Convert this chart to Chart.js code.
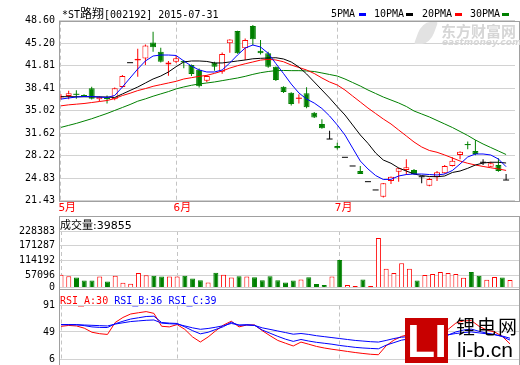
<!DOCTYPE html>
<html>
<head>
<meta charset="utf-8">
<script src="https://cdn.jsdelivr.net/npm/chart.js@4.4.1/dist/chart.umd.min.js"></script>
<style>
body { margin: 0; background: #fff; }
#wrap { position: relative; width: 520px; height: 365px; overflow: hidden; font-family: "DejaVu Sans Mono", "Noto Sans CJK SC", monospace; }
canvas { position: absolute; left: 0; }
.frame { position: absolute; box-sizing: border-box; border: 1px solid #a0a0a0; pointer-events: none; }
.txt { position: absolute; white-space: nowrap; font-size: 10px; line-height: 12px; color: #000; }
.mk { position: absolute; top: 13px; width: 7px; height: 3px; }
</style>
</head>
<body>
<div id="wrap">
  <canvas id="price" width="520" height="217" style="top:0"></canvas>
  <canvas id="vol" width="520" height="80" style="top:217px"></canvas>
  <canvas id="rsi" width="520" height="80" style="top:289px"></canvas>

  <div class="frame" style="left:59px;top:21px;width:461px;height:181px"></div>
  <div class="frame" style="left:59px;top:216px;width:461px;height:74px"></div>
  <div class="frame" style="left:59px;top:289px;width:461px;height:90px;border-top:none"></div>

  <div class="txt" style="left:62px;top:8px">*ST<span style="font-size:12px">路翔</span>[002192] 2015-07-31</div>
  <div class="txt" style="left:331px;top:8px">5PMA</div><div class="mk" style="left:359px;background:#0000ff"></div>
  <div class="txt" style="left:374px;top:8px">10PMA</div><div class="mk" style="left:406px;background:#000"></div>
  <div class="txt" style="left:422px;top:8px">20PMA</div><div class="mk" style="left:455px;background:#ff0000"></div>
  <div class="txt" style="left:470px;top:8px">30PMA</div><div class="mk" style="left:502px;background:#008000"></div>

  <div class="txt" style="left:418px;top:22px;width:16px;height:22px;border-radius:50% 10% 50% 10%;background:#e2e2e2;transform:skewX(-20deg)"></div>
  <div class="txt" style="left:441px;top:22px;font-family:'Noto Sans CJK SC';font-weight:bold;font-size:15px;line-height:17px;color:#d6d6d6;letter-spacing:0px">东方财富网</div>
  <div class="txt" style="left:442px;top:37px;font-family:'DejaVu Sans';font-weight:bold;font-style:italic;font-size:9px;line-height:10px;color:#d6d6d6">eastmoney.com</div>

  <div class="txt" style="left:60px;top:219px;font-family:'DejaVu Sans','Noto Sans CJK SC';font-size:11px;line-height:13px">成交量:39855</div>
  <div class="txt" style="left:60px;top:295px"><span style="color:#ff0000">RSI_A:30</span> <span style="color:#0000ff">RSI_B:36</span> <span style="color:#0000ff">RSI_C:39</span></div>

  <div class="txt" style="left:405px;top:318px;width:43px;height:45px;background:#c80000;color:#fff;font-family:'Liberation Sans';font-weight:bold;font-size:46px;line-height:46px;text-align:center;letter-spacing:-1px">LI</div>
  <div class="txt" style="left:456px;top:315px;font-family:'Noto Sans CJK SC';font-size:19px;line-height:22px;letter-spacing:2px">锂电网</div>
  <div class="txt" style="left:457px;top:338px;font-family:'Liberation Sans';font-size:21px;line-height:24px">li-b.cn</div>
</div>

<script>
// trading days: 15 in May, 21 in June, 23 in July
const monthTicks = [0, 15, 36];
const monthNames = ['5月', '6月', '7月'];

const open = [37.0, 37.23, 37.55, 37.4, 38.4, 36.73, 37.0, 36.73, 38.6, 42.26,
  42.6, 42.9, 45.3, 43.9, 42.0, 42.4, 42.5, 41.9, 41.2, 39.54,
  42.26, 40.9, 45.19, 47.05, 44.43, 47.8, 44.07, 43.67, 41.66, 38.64,
  37.73, 36.8, 37.64, 34.7, 33.0, 30.74, 29.69, 27.98, 26.67, 25.91,
  24.3, 23.05, 22.03, 24.4, 25.81, 26.06, 26.06, 25.05, 23.69, 24.96,
  25.56, 26.67, 28.33, 30.0, 28.93, 27.23, 26.56, 26.82, 24.55];
const high = [37.5, 38.03, 38.1, 37.5, 38.64, 37.2, 37.3, 38.5, 40.4, 42.26,
  44.37, 45.0, 46.94, 44.5, 42.5, 43.3, 42.66, 42.0, 41.4, 40.4,
  42.41, 43.8, 45.8, 47.1, 45.9, 47.96, 45.68, 43.9, 41.7, 38.7,
  37.8, 37.5, 38.55, 34.8, 33.72, 31.99, 30.18, 27.98, 26.67, 26.67,
  24.3, 23.05, 24.1, 25.1, 26.4, 27.68, 26.2, 25.05, 24.9, 25.9,
  26.8, 27.98, 28.9, 30.36, 30.59, 27.68, 27.3, 27.83, 25.46];
const low = [36.7, 36.74, 36.8, 37.1, 36.7, 36.4, 36.1, 36.6, 38.5, 42.26,
  40.15, 41.9, 43.9, 42.3, 40.3, 42.2, 41.41, 40.25, 38.53, 39.3,
  41.05, 40.6, 43.77, 43.6, 42.66, 44.9, 43.5, 41.5, 39.5, 37.67,
  35.8, 36.1, 35.4, 33.9, 32.3, 30.74, 29.16, 27.98, 26.67, 25.46,
  24.3, 23.05, 21.9, 23.95, 24.3, 25.3, 25.4, 24.06, 23.6, 24.4,
  25.5, 26.6, 27.68, 29.2, 28.3, 26.82, 26.5, 25.8, 24.55];
const close = [37.2, 37.64, 37.49, 37.2, 36.8, 37.13, 36.85, 38.4, 40.25, 42.26,
  42.75, 44.84, 44.6, 42.41, 42.3, 42.92, 42.4, 40.56, 38.7, 40.25,
  41.66, 43.57, 45.75, 43.67, 45.68, 45.79, 43.67, 41.66, 39.65, 37.84,
  36.03, 36.9, 35.53, 34.0, 32.36, 30.74, 29.34, 27.98, 26.67, 25.46,
  24.3, 23.05, 24.06, 25.05, 26.32, 26.47, 25.46, 25.05, 24.71, 25.72,
  26.67, 27.47, 28.83, 29.9, 28.48, 27.23, 27.07, 25.91, 24.55];

const volume = [60820, 54500, 49650, 38470, 38470, 53370, 34750, 57100, 29900, 26180,
  67150, 58200, 57100, 53370, 53370, 53370, 57100, 45930, 39600, 31020,
  68270, 60820, 49650, 54500, 53370, 50770, 39600, 54500, 39600, 31020,
  38470, 42200, 50770, 24700, 21000, 53370, 116690, 21000, 17250, 42200,
  17250, 201240, 83170, 67150, 104400, 83170, 38470, 59700, 63430, 70880,
  67150, 63430, 48530, 70880, 57100, 41080, 52250, 49650, 39855];

const ma5 = [36.77, 36.93, 37.08, 37.16, 37.16, 37.08, 37.01, 37.31, 38.59, 39.95,
  41.31, 42.52, 43.27, 43.42, 43.42, 43.35, 42.52, 41.76, 41.16, 40.86,
  40.86, 41.16, 42.22, 43.42, 44.48, 44.93, 44.63, 43.68, 42.13, 40.62,
  39.04, 37.69, 36.78, 36.17, 35.35, 34.22, 32.86, 31.35, 29.38, 27.42,
  26.22, 25.23, 24.63, 24.66, 25.16, 25.38, 25.46, 25.46, 25.38, 25.31,
  25.46, 25.99, 26.97, 28.03, 28.48, 28.48, 28.33, 27.72, 26.56];
const ma10 = [37.13, 37.13, 37.12, 37.12, 37.10, 37.10, 37.08, 37.01, 37.54, 38.07,
  38.59, 39.2, 39.8, 40.25, 40.86, 41.66, 42.37, 42.52, 42.52, 42.45,
  42.22, 42.22, 42.37, 42.52, 42.67, 42.85, 42.92, 42.97, 43.01, 42.82,
  42.37, 41.61, 40.56, 39.35, 38.14, 36.93, 35.62, 34.37, 32.86, 31.35,
  30.09, 28.63, 27.57, 27.08, 26.37, 25.91, 25.46, 25.23, 25.08, 25.05,
  25.16, 25.69, 25.91, 26.32, 26.82, 27.12, 27.23, 27.23, 27.12];
const ma20 = [35.75, 35.9, 36.0, 36.1, 36.25, 36.4, 36.55, 36.85, 37.3, 37.65,
  38.05, 38.35, 38.7, 38.95, 39.2, 39.45, 39.8, 40.0, 40.2, 40.35,
  40.65, 41.0, 41.45, 41.8, 42.1, 42.37, 42.65, 42.77, 42.67, 42.4,
  41.91, 41.54, 41.16, 40.63, 39.95, 39.35, 38.89, 38.14, 37.23, 36.33,
  35.42, 34.59, 33.76, 33.01, 32.1, 31.2, 30.29, 29.54, 29.01, 28.74,
  28.33, 27.88, 27.42, 27.08, 26.82, 26.6, 26.4, 26.22, 26.0];
const ma30 = [32.5, 32.8, 33.1, 33.45, 33.8, 34.2, 34.6, 35.05, 35.5, 35.95,
  36.45, 36.8, 37.2, 37.55, 37.9, 38.3, 38.6, 38.85, 39.05, 39.2,
  39.35, 39.55, 39.75, 39.95, 40.2, 40.5, 40.75, 40.93, 41.06, 41.09,
  41.06, 41.06, 41.01, 40.93, 40.71, 40.48, 40.25, 39.8, 39.27, 38.74,
  38.14, 37.61, 37.08, 36.63, 36.18, 35.65, 34.97, 34.52, 34.07, 33.54,
  33.01, 32.48, 31.88, 31.27, 30.59, 29.99, 29.46, 28.93, 28.4];

const rsiA = [57.9, 59.3, 58.5, 55, 48.5, 46.2, 45, 64, 72, 77.5,
  79.5, 81.3, 78.5, 58, 57, 60.7, 53, 41, 33, 41,
  51, 60, 66, 57, 60.1, 60.1, 51, 43, 35.5, 31,
  26.7, 32.9, 29.5, 26, 23.5, 21.5, 19.8, 18, 16.3, 14.8,
  13.5, 12.8, 27, 36, 42, 45, 43, 41, 44, 48,
  53, 63, 66.5, 67, 58, 52, 49, 42, 30];
const rsiB = [60.5, 60.5, 60.3, 59, 57, 56.2, 56, 62, 66, 69.5,
  71.5, 73.5, 74, 64, 63, 62.5, 57, 51, 46, 48.5,
  53, 57.5, 64.5, 59.5, 60.5, 59.5, 52, 47, 42, 37.5,
  34, 37, 34.5, 32.5, 31, 29.5, 27.5, 26, 24.5, 23.5,
  22.8, 22.2, 28, 32, 36, 38, 37.5, 37, 38.5, 41,
  44, 49, 52, 53.5, 50, 47, 45, 41.5, 36];
const rsiC = [60.7, 60.7, 60.6, 60, 59.5, 59, 58.5, 61.5, 63.5, 65.5,
  66.5, 67.5, 68, 63, 62, 61.5, 58.5, 55.5, 53.2, 54.5,
  56.5, 59, 62.5, 60, 60, 59.3, 55.5, 53, 50.5, 48,
  45.4, 46.5, 45, 43, 41.5, 40, 38.5, 37, 35.5, 34.5,
  33.5, 32.9, 35.5, 38.5, 40.7, 41.5, 41.2, 41, 41.8, 43,
  44.5, 46.5, 48, 49, 47.5, 46, 44.5, 42.5, 39];

const priceTicks = [21.43, 24.83, 28.22, 31.62, 35.02, 38.41, 41.81, 45.20, 48.60];
const volTicks = [0, 57096, 114192, 171287, 228383];
const rsiTicks = [6, 49, 91];

const RED = '#ff0000', GREEN = '#008000', BLUE = '#0000ff', BLACK = '#000000';
const GRID = '#d2d2d2';
const TICK_FONT = {family: "'DejaVu Sans Mono', 'Noto Sans CJK SC'", size: 10};
// the volume pane in the source starts a bit above zero, bottom tick still reads 0
const volFloor = 13470;

const idx = close.map((c, i) => i);
const candleColor = idx.map(i => close[i] > open[i] ? RED : (close[i] < open[i] ? GREEN : BLACK));
const xy = arr => arr.map((v, i) => ({x: i, y: v}));

function xAxis(axisHeight, showLabels) {
    return {
        type: 'linear',
        min: -0.26,
        max: 59.16,
        offset: false,
        afterBuildTicks: s => { s.ticks = monthTicks.map(v => ({value: v})); },
        afterFit: s => { s.height = axisHeight; },
        grid: {color: '#c4c4c4', drawTicks: false, offset: false},
        border: {display: false, dash: [4, 3]},
        ticks: {
            display: showLabels,
            color: RED,
            font: {family: "'DejaVu Sans Mono', 'Noto Sans CJK SC'", size: 11},
            padding: 1,
            align: 'start',
            labelOffset: -2.5,
            maxRotation: 0,
            callback: v => monthNames[monthTicks.indexOf(v)]
        }
    };
}

function yAxis(min, max, tickValues, fmt) {
    return {
        type: 'linear',
        min: min,
        max: max,
        afterBuildTicks: s => { s.ticks = tickValues.map(v => ({value: v})); },
        afterFit: s => { s.width = 59; },
        grid: {color: GRID, drawTicks: false},
        border: {display: false},
        ticks: {color: BLACK, font: TICK_FONT, padding: 4, callback: fmt}
    };
}

function baseOptions(padTop, x, y) {
    return {
        responsive: false,
        animation: false,
        devicePixelRatio: 1,
        events: [],
        layout: {padding: {top: padTop, right: 1, left: 0, bottom: 0}},
        plugins: {legend: {display: false}, tooltip: {enabled: false}},
        scales: {x: x, y: y}
    };
}

function maLine(values, color) {
    return {type: 'line', data: xy(values), borderColor: color, borderWidth: 1,
        pointRadius: 0, tension: 0, order: 0};
}

// price pane
const flatIdx = idx.filter(i => Math.abs(close[i] - open[i]) < 0.16);
new Chart(document.getElementById('price'), {
    type: 'bar',
    data: {
        datasets: [
            maLine(ma5, BLUE),
            maLine(ma10, BLACK),
            maLine(ma20, RED),
            maLine(ma30, GREEN),
            {
                data: idx.map(i => ({x: i, y: [low[i], high[i]]})),
                backgroundColor: candleColor,
                borderWidth: 0,
                barThickness: 1,
                grouped: false,
                inflateAmount: 0,
                order: 3
            },
            {
                data: idx.map(i => ({x: i, y: [open[i], close[i]]})),
                backgroundColor: idx.map(i => close[i] > open[i] ? '#ffffff' : candleColor[i]),
                borderColor: candleColor,
                borderWidth: 1,
                borderSkipped: false,
                barThickness: 6,
                grouped: false,
                inflateAmount: 0,
                order: 2
            },
            {
                type: 'line',
                data: flatIdx.map(i => ({x: i, y: close[i]})),
                showLine: false,
                pointStyle: 'line',
                pointRadius: 3,
                pointBorderWidth: 1,
                pointBorderColor: flatIdx.map(i => candleColor[i]),
                order: 1
            }
        ]
    },
    options: baseOptions(20.7, xAxis(16.3, true),
        yAxis(21.43, 48.60, priceTicks, v => v.toFixed(2)))
});

// volume pane
new Chart(document.getElementById('vol'), {
    type: 'bar',
    data: {
        datasets: [{
            data: xy(volume),
            backgroundColor: idx.map(i => close[i] >= open[i] ? '#ffffff' : GREEN),
            borderColor: idx.map(i => close[i] >= open[i] ? RED : GREEN),
            borderWidth: 1,
            borderSkipped: false,
            barThickness: 5,
            grouped: false,
            inflateAmount: 0
        }]
    },
    options: baseOptions(14, xAxis(8.3, false),
        yAxis(volFloor, 228383, [volFloor].concat(volTicks.slice(1)),
            v => v === volFloor ? '0' : String(v)))
});

// RSI pane
new Chart(document.getElementById('rsi'), {
    type: 'line',
    data: {
        datasets: [
            maLine(rsiC, BLUE),
            maLine(rsiB, BLUE),
            maLine(rsiA, RED)
        ]
    },
    options: baseOptions(16.5, xAxis(7, false),
        yAxis(6, 91, rsiTicks, v => String(v)))
});
</script>
</body>
</html>
